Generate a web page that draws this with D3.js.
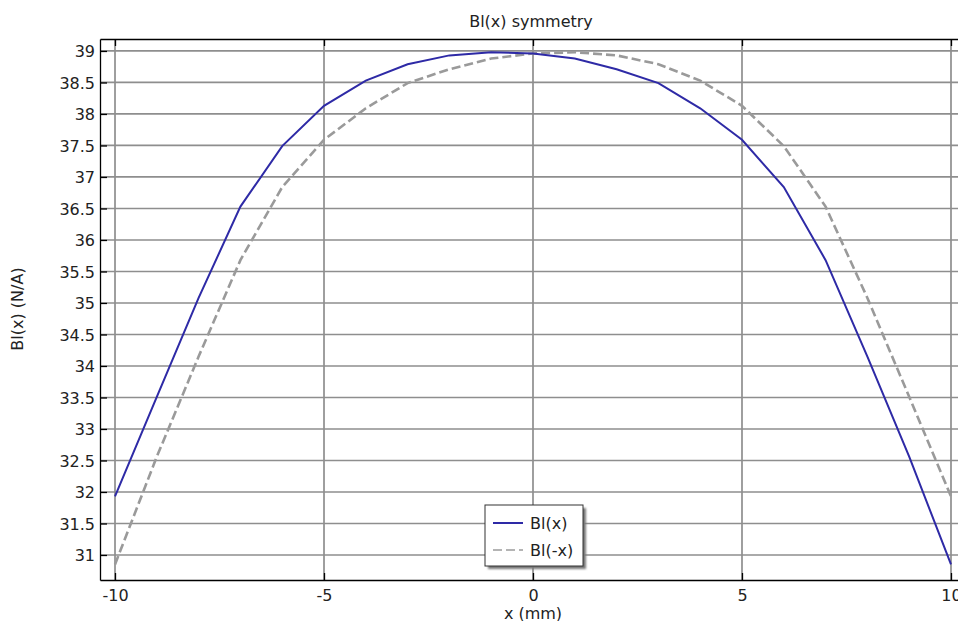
<!DOCTYPE html>
<html>
<head>
<meta charset="utf-8">
<script src="https://cdn.jsdelivr.net/npm/d3@7/dist/d3.min.js"></script>
<style>
  html, body { margin: 0; padding: 0; background: #fff; }
  svg { display: block; font-family: "DejaVu Sans", sans-serif; }
</style>
</head>
<body>
<svg id="chart" width="958" height="621"></svg>
<script>
// Position along the gap (mm)
const xPositions = [-10, -9, -8, -7, -6, -5, -4, -3, -2, -1, 0, 1, 2, 3, 4, 5, 6, 7, 8, 9, 10];
// Force factor Bl(x) in N/A at each position
const blValues = [31.93, 33.51, 35.08, 36.53, 37.49, 38.13, 38.53, 38.79, 38.93, 38.98, 38.96,
                  38.88, 38.71, 38.49, 38.09, 37.59, 36.84, 35.68, 34.15, 32.56, 30.85];
// Mirrored curve Bl(-x)
const blMirrored = blValues.slice().reverse();

const xTicks = [-10, -5, 0, 5, 10];
const yTicks = [31, 31.5, 32, 32.5, 33, 33.5, 34, 34.5, 35, 35.5, 36, 36.5, 37, 37.5, 38, 38.5, 39];
const seriesNames = ["Bl(x)", "Bl(-x)"];

const svg = d3.select("#chart");
const plotLeft = 100, plotTop = 39, plotBottom = 580, plotRight = 966;

const x = d3.scaleLinear().domain([-10.359, 10.359]).range([plotLeft, plotRight]);
const y = d3.scaleLinear().domain([30.603, 39.19]).range([plotBottom, plotTop]);

const gridColor = "#8e8e8e";

// grid
svg.append("g").selectAll("line").data(xTicks).join("line")
  .attr("x1", d => x(d)).attr("x2", d => x(d))
  .attr("y1", plotTop).attr("y2", plotBottom)
  .attr("stroke", gridColor).attr("stroke-width", 1.7);
svg.append("g").selectAll("line").data(yTicks).join("line")
  .attr("x1", plotLeft).attr("x2", plotRight)
  .attr("y1", d => y(d)).attr("y2", d => y(d))
  .attr("stroke", gridColor).attr("stroke-width", 1.7);

// axes with inward ticks
const fmt = d => String(d);
const xAxis = svg.append("g").attr("transform", `translate(0,${plotBottom})`)
  .call(d3.axisBottom(x).tickValues(xTicks).tickSizeInner(-7).tickSizeOuter(0).tickPadding(10).tickFormat(fmt));
const xTop = svg.append("g").attr("transform", `translate(0,${plotTop})`)
  .call(d3.axisTop(x).tickValues(xTicks).tickSizeInner(-7).tickSizeOuter(0).tickFormat(""));
const yAxis = svg.append("g").attr("transform", `translate(${plotLeft},0)`)
  .call(d3.axisLeft(y).tickValues(yTicks).tickSizeInner(-7).tickSizeOuter(0).tickPadding(5).tickFormat(fmt));

[xAxis, xTop, yAxis].forEach(g => {
  g.select(".domain").attr("stroke", "#000").attr("stroke-width", 1.3);
  g.selectAll(".tick line").attr("stroke", "#000").attr("stroke-width", 1.3);
  g.selectAll(".tick text").attr("fill", "#222").style("font-size", "16px")
    .style("font-family", "'DejaVu Sans', sans-serif");
});
yAxis.selectAll(".tick text").attr("dy", "0.36em");

// curves
const line = d3.line().x((d, i) => x(xPositions[i])).y(d => y(d));
svg.append("path").datum(blMirrored)
  .attr("d", line).attr("fill", "none")
  .attr("stroke", "#9a9a9a").attr("stroke-width", 2.6)
  .attr("stroke-dasharray", "9,4");
svg.append("path").datum(blValues)
  .attr("d", line).attr("fill", "none")
  .attr("stroke", "#2e2aa6").attr("stroke-width", 2);

// title and axis labels
svg.append("text").attr("x", 531).attr("y", 27).attr("text-anchor", "middle")
  .attr("fill", "#222").style("font-size", "16px").text("Bl(x) symmetry");
svg.append("text").attr("x", 533).attr("y", 619).attr("text-anchor", "middle")
  .attr("fill", "#222").style("font-size", "16px").text("x (mm)");
svg.append("text").attr("transform", "translate(23,309) rotate(-90)").attr("text-anchor", "middle")
  .attr("fill", "#222").style("font-size", "16px").text("Bl(x) (N/A)");

// legend
const defs = svg.append("defs");
defs.append("filter").attr("id", "shadow").attr("x", "-10%").attr("y", "-10%").attr("width", "130%").attr("height", "130%")
  .append("feGaussianBlur").attr("stdDeviation", 1.2);
const lg = svg.append("g");
lg.append("rect").attr("x", 488).attr("y", 508).attr("width", 98).attr("height", 61)
  .attr("fill", "#777").attr("filter", "url(#shadow)");
lg.append("rect").attr("x", 485).attr("y", 505).attr("width", 98).attr("height", 61)
  .attr("fill", "#fff").attr("stroke", "#333").attr("stroke-width", 1);
const legendRows = [
  { name: seriesNames[0], color: "#2e2aa6", dash: null, width: 2, yy: 523 },
  { name: seriesNames[1], color: "#b4b4b4", dash: "9,4", width: 2, yy: 550 }
];
legendRows.forEach(r => {
  lg.append("line").attr("x1", 493).attr("x2", 523).attr("y1", r.yy).attr("y2", r.yy)
    .attr("stroke", r.color).attr("stroke-width", r.width)
    .attr("stroke-dasharray", r.dash);
  lg.append("text").attr("x", 530).attr("y", r.yy + 6).attr("fill", "#222")
    .style("font-size", "16px").text(r.name);
});
</script>
</body>
</html>
